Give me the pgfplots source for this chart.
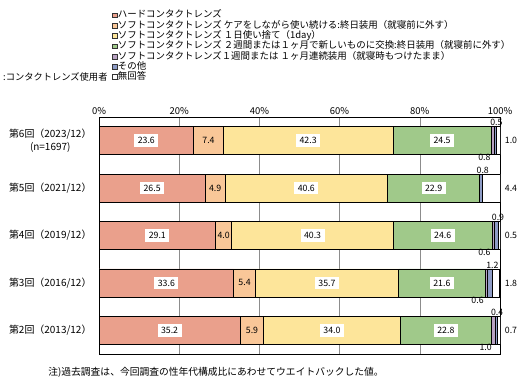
\documentclass[border=0pt]{standalone}
\usepackage{fontspec}
\setmainfont{Noto Sans CJK JP}
\usepackage{pgfplots}
\usepackage{pgfplotstable}
\pgfplotsset{compat=1.18}
\definecolor{chard}{HTML}{EAA08C}
\definecolor{ccare}{HTML}{F9C798}
\definecolor{cone}{HTML}{FDE59A}
\definecolor{ctwo}{HTML}{A0C98A}
\definecolor{cwk}{HTML}{B8A2C2}
\definecolor{coth}{HTML}{8E9CC6}
\pgfplotstableread{
idx hard care oneday twowk onewk other na
4 23.6 7.4 42.3 24.5 0.8 0.5 1.0
3 26.5 4.9 40.6 22.9 0.0 0.8 4.4
2 29.1 4.0 40.3 24.6 0.6 0.9 0.5
1 33.6 5.4 35.7 21.6 0.6 1.2 1.8
0 35.2 5.9 34.0 22.8 1.0 0.4 0.7
}\data
\begin{document}
\begin{tikzpicture}
\useasboundingbox (0bp,0bp) rectangle (530bp,382bp);
\pgfplotsset{base/.style={scale only axis, width=401bp, height=237bp,
  at={(99bp,28bp)}, anchor=south west, xmin=0, xmax=100, ymin=-0.5, ymax=4.5,
  /pgf/number format/assume math mode=true}}
\begin{axis}[base, xbar stacked, bar width=28bp,
  axis line style={black, line width=0.8pt},
  xtick={0,20,...,100}, xticklabel pos=upper,
  xticklabel={\pgfmathprintnumber{\tick}\%},
  xticklabel style={font=\fontsize{9.5}{10}\selectfont, yshift=-1bp},
  major tick length=0pt,
  xmajorgrids, grid style={gray!90, line width=0.6pt},
  ytick={0,1,2,3,4},
  yticklabels={第2回（2013/12）,第3回（2016/12）,第4回（2019/12）,第5回（2021/12）,{第6回（2023/12）\\(n=1697)}},
  yticklabel style={align=center, font=\fontsize{10}{13}\selectfont, xshift=-4bp},
  every axis plot/.append style={draw=black, line width=0.7pt}]
\addplot[fill=chard] table[x=hard,y=idx]{\data};
\addplot[fill=ccare] table[x=care,y=idx]{\data};
\addplot[fill=cone] table[x=oneday,y=idx]{\data};
\addplot[fill=ctwo] table[x=twowk,y=idx]{\data};
\addplot[fill=cwk] table[x=onewk,y=idx]{\data};
\addplot[fill=coth] table[x=other,y=idx]{\data};
\addplot[fill=white] table[x=na,y=idx]{\data};
\end{axis}
\begin{axis}[base, hide axis, clip=false,
  legend image code/.code={\draw[#1, line width=0.5pt] (0bp,-2.4bp) rectangle (4.8bp,2.4bp);},
  legend style={at={(0.032,1.4515)}, anchor=north west, draw=none, fill=none,
    inner sep=0pt, row sep=0pt, font=\fontsize{9.5}{10}\selectfont,
    nodes={inner sep=0.5bp, text height=7.3bp, text depth=2bp}},
  legend cell align=left,
  lbl/.style={draw=none, mark=none, point meta=explicit, nodes near coords,
    nodes near coords align=center,
    nodes near coords={\pgfmathprintnumber[fixed,fixed zerofill,precision=1,assume math mode=true]{\pgfplotspointmeta}},
    every node near coord/.append style={font=\fontsize{8.8}{9}\selectfont, text=black, inner sep=1.5bp}},
  boxed/.style={every node near coord/.append style={fill=white, inner xsep=3.5bp, inner ysep=3bp}}
  ]
\addlegendimage{fill=chard, draw=black!80}
\addlegendentry{ハードコンタクトレンズ}
\addlegendimage{fill=ccare, draw=black!80}
\addlegendentry{ソフトコンタクトレンズ ケアをしながら使い続ける:終日装用（就寝前に外す）}
\addlegendimage{fill=cone, draw=black!80}
\addlegendentry{ソフトコンタクトレンズ １日使い捨て（1day）}
\addlegendimage{fill=ctwo, draw=black!80}
\addlegendentry{ソフトコンタクトレンズ ２週間または１ヶ月で新しいものに交換:終日装用（就寝前に外す）}
\addlegendimage{fill=cwk, draw=black!80}
\addlegendentry{ソフトコンタクトレンズ１週間または １ヶ月連続装用（就寝時もつけたまま）}
\addlegendimage{fill=coth, draw=black!80}
\addlegendentry{その他}
\addlegendimage{fill=white, draw=black!80}
\addlegendentry{無回答}
\addplot[lbl, boxed] table[x expr={\thisrow{hard}/2}, y=idx, meta=hard]{\data};
\addplot[lbl] table[x expr={\thisrow{hard}+\thisrow{care}/2}, y=idx, meta=care]{\data};
\addplot[lbl, boxed] table[x expr={\thisrow{hard}+\thisrow{care}+\thisrow{oneday}/2}, y=idx, meta=oneday]{\data};
\addplot[lbl, boxed] table[x expr={\thisrow{hard}+\thisrow{care}+\thisrow{oneday}+\thisrow{twowk}/2}, y=idx, meta=twowk]{\data};
\addplot[lbl, restrict expr to domain={\thisrow{onewk}}{0.05:100},
  every node near coord/.append style={xshift=-10bp, yshift=-17bp}]
  table[x expr={\thisrow{hard}+\thisrow{care}+\thisrow{oneday}+\thisrow{twowk}+\thisrow{onewk}}, y=idx, meta=onewk]{\data};
\addplot[lbl, every node near coord/.append style={yshift=18bp}]
  table[x expr={\thisrow{hard}+\thisrow{care}+\thisrow{oneday}+\thisrow{twowk}+\thisrow{onewk}+\thisrow{other}}, y=idx, meta=other]{\data};
\addplot[lbl, every node near coord/.append style={xshift=11bp}]
  table[x expr={100}, y=idx, meta=na]{\data};
\end{axis}
\node[anchor=west, font=\fontsize{9.3}{10}\selectfont, inner sep=0pt] at (3bp,305bp) {:コンタクトレンズ使用者};
\node[font=\fontsize{9.8}{11}\selectfont, inner sep=0pt] at (216bp,10bp) {注)過去調査は、今回調査の性年代構成比にあわせてウエイトバックした値。};
\end{tikzpicture}
\end{document}
